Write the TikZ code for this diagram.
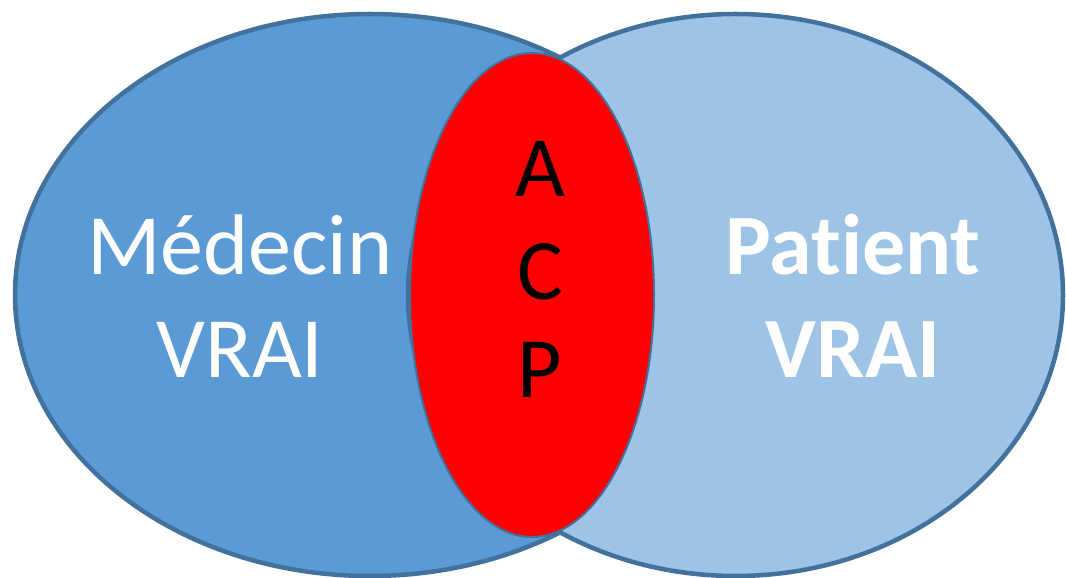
\documentclass[tikz,border=0pt]{standalone}
\usepackage{fontspec}
\setmainfont{Carlito}[Ligatures={NoCommon}]
\definecolor{leftblue}{HTML}{5B9BD5}
\definecolor{rightblue}{HTML}{9DC3E6}
\definecolor{edgeblue}{HTML}{41719C}
\begin{document}
\begin{tikzpicture}[x=1pt,y=1pt,
  bigset/.style={draw=edgeblue,line width=4.5pt},
  whitetxt/.style={text=white,anchor=base,inner sep=0pt,font=\fontsize{86}{100}\selectfont},
  boldtxt/.style={whitetxt,font=\fontsize{86}{100}\selectfont\bfseries},
  acptxt/.style={text=black,anchor=base,inner sep=0pt,font=\fontsize{86}{100}\selectfont}]
\useasboundingbox (0,0) rectangle (1066,578);
\fill[white] (0,0) rectangle (1066,578);
\draw[bigset,fill=leftblue] (370,283) ellipse [x radius=355,y radius=281];
\draw[bigset,fill=rightblue] (735.5,283) ellipse [x radius=327.5,y radius=281];
\draw[draw=edgeblue,line width=2pt,fill=red] (532,283) ellipse [x radius=122,y radius=242];
\node[whitetxt] (med) at (240,303) {Médecin};
\node[whitetxt] (vrai1) at (240,200) {VRAI};
\node[boldtxt] (pat) at (853,303) {Patient};
\node[boldtxt] (vrai2) at (853,200) {VRAI};
\node[acptxt] (a) at (540,381) {A};
\node[acptxt] (c) at (540,278) {C};
\node[acptxt] (p) at (540,180) {P};
\end{tikzpicture}
\end{document}
